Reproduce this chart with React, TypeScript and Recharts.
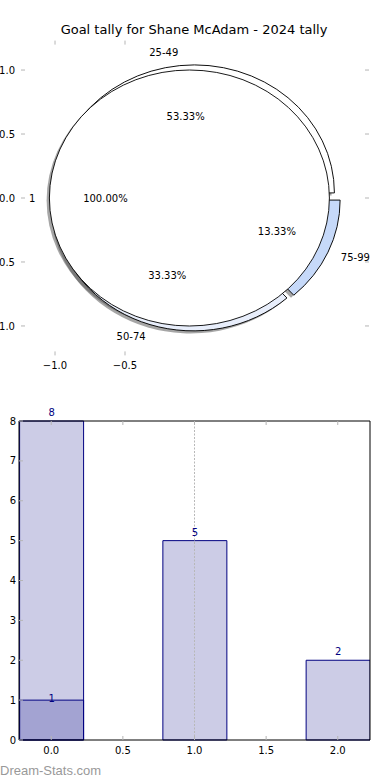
import React from "react";
import {
  Bar,
  BarChart,
  Cell,
  LabelList,
  Pie,
  PieChart,
  ReferenceLine,
  ScatterChart,
  Sector,
  XAxis,
  YAxis,
} from "recharts";

// values
const chartTitle = "Goal tally for Shane McAdam - 2024 tally";
const ringNames = ["25-49", "50-74", "75-99"];
const ringValues = [8, 5, 2];
const ringColors = ["#ffffff", "#e8eefb", "#c6d9f9"];
const coreNames = ["1"];
const coreValues = [15];
const coreColors = ["#ffffff"];
const pieTicksX = [-1, -0.5];
const pieTicksY = [-1, -0.5, 0, 0.5, 1];

const barPositions = [0, 1, 2];
const barTotals = [8, 5, 2];
const barFirst = [1, null, null];
const barTicksX = [0, 0.5, 1, 1.5, 2];
const barTicksY = [0, 1, 2, 3, 4, 5, 6, 7, 8];
const markerX = 1;

const ring = ringNames.map((name, i) => ({ name, value: ringValues[i], color: ringColors[i] }));
const core = coreNames.map((name, i) => ({ name, value: coreValues[i], color: coreColors[i] }));
const bars = barPositions.map((x, i) => ({ x, total: barTotals[i], first: barFirst[i] }));

// pie geometry (matplotlib axes were not square, so the pie is an ellipse)
const CX = 195;
const CY = 198;
const SX = 140;
const SY = 128;
const EXPLODE = 0.04;
const LABEL_DIST = 1.1;
const PCT_DIST = 0.6;
const NAVY = "#000080";
const FONT = "'DejaVu Sans', sans-serif";

const fmt1 = (v: number) => (v < 0 ? "\u2212" : "") + Math.abs(v).toFixed(1);
const blank = () => "";

const makeWedge = (shadow: boolean) => (p: any) => {
  const m = (p.midAngle * Math.PI) / 180;
  let dx = EXPLODE * SX * Math.cos(m);
  let dy = -EXPLODE * SY * Math.sin(m);
  if (shadow) {
    dx += -0.02 * SX;
    dy += 0.02 * SY;
  }
  const fill = shadow ? "#4d4d4d" : p.fill;
  const fillOpacity = shadow ? 0.5 : 1;
  const stroke = shadow ? "none" : "#000";
  // a full circle: draw it as an ellipse so no radius line shows
  if (Math.abs(p.endAngle - p.startAngle) >= 359.99) {
    return (
      <ellipse
        cx={p.cx + dx}
        cy={p.cy + dy}
        rx={(p.outerRadius * SX) / SY}
        ry={p.outerRadius}
        fill={fill}
        fillOpacity={fillOpacity}
        stroke={stroke}
        strokeWidth={0.9}
      />
    );
  }
  return (
    <g transform={`translate(${p.cx + dx},${p.cy + dy}) scale(${SX / SY},1) translate(${-p.cx},${-p.cy})`}>
      <Sector
        cx={p.cx}
        cy={p.cy}
        innerRadius={p.innerRadius}
        outerRadius={p.outerRadius}
        startAngle={p.startAngle}
        endAngle={p.endAngle}
        fill={fill}
        fillOpacity={fillOpacity}
        stroke={stroke}
        strokeWidth={0.9}
      />
    </g>
  );
};
const wedge = makeWedge(false);
const shadowWedge = makeWedge(true);
const noShape = () => <g />;

const sliceLabel = (p: any) => {
  const m = (p.midAngle * Math.PI) / 180;
  const c = Math.cos(m);
  const s = Math.sin(m);
  const name = p.name ?? p.payload?.name;
  return (
    <g>
      <text
        x={p.cx + (EXPLODE + LABEL_DIST) * SX * c}
        y={p.cy - (EXPLODE + LABEL_DIST) * SY * s}
        textAnchor={c > 0 ? "start" : "end"}
        dominantBaseline="central"
        fontSize={10}
        fill="#000"
      >
        {name}
      </text>
      <text
        x={p.cx + (EXPLODE + PCT_DIST) * SX * c}
        y={p.cy - (EXPLODE + PCT_DIST) * SY * s}
        textAnchor="middle"
        dominantBaseline="central"
        fontSize={10}
        fill="#000"
      >
        {(p.percent * 100).toFixed(2)}%
      </text>
    </g>
  );
};

const tickLine = { stroke: "#b5b5b5" };
const tickText = { fill: "#000", fontSize: 10 };

export default function App() {
  return (
    <div
      style={{
        position: "absolute",
        left: 0,
        top: 0,
        width: 390,
        height: 780,
        overflow: "hidden",
        background: "#fff",
        fontFamily: FONT,
      }}
    >
      {/* axes around the pie */}
      <div style={{ position: "absolute", left: -30, top: 0 }}>
        <ScatterChart width={420} height={390} margin={{ top: 0, right: 0, bottom: 0, left: 0 }}>
          <XAxis
            xAxisId="b"
            type="number"
            dataKey="x"
            domain={[-1.243, 1.243]}
            allowDataOverflow
            ticks={pieTicksX}
            orientation="bottom"
            height={34.6}
            axisLine={false}
            tickSize={-4}
            tickMargin={10.5}
            tickLine={tickLine}
            tick={tickText}
            tickFormatter={fmt1}
          />
          <XAxis
            xAxisId="t"
            type="number"
            dataKey="x"
            domain={[-1.243, 1.243]}
            allowDataOverflow
            ticks={pieTicksX}
            orientation="top"
            height={40.6}
            axisLine={false}
            tickSize={-4}
            tickLine={tickLine}
            tickFormatter={blank}
          />
          <YAxis
            yAxisId="l"
            type="number"
            dataKey="y"
            domain={[-1.23, 1.23]}
            allowDataOverflow
            ticks={pieTicksY}
            width={51}
            axisLine={false}
            tickSize={-4}
            tickMargin={10}
            tickLine={tickLine}
            tick={tickText}
            tickFormatter={fmt1}
          />
          <YAxis
            yAxisId="r"
            type="number"
            dataKey="y"
            orientation="right"
            domain={[-1.23, 1.23]}
            allowDataOverflow
            ticks={pieTicksY}
            width={21}
            axisLine={false}
            tickSize={-4}
            tickLine={tickLine}
            tickFormatter={blank}
          />
        </ScatterChart>
      </div>

      {/* nested pie */}
      <div style={{ position: "absolute", left: 0, top: 0 }}>
        <PieChart width={390} height={390} margin={{ top: 0, right: 0, bottom: 0, left: 0 }}>
          <Pie data={ring} dataKey="value" nameKey="name" cx={CX} cy={CY} outerRadius={SY}
            shape={shadowWedge} stroke="none" labelLine={false} isAnimationActive={false}>
            {ring.map((d) => <Cell key={d.name} fill={d.color} />)}
          </Pie>
          <Pie data={core} dataKey="value" nameKey="name" cx={CX} cy={CY} outerRadius={SY}
            shape={shadowWedge} stroke="none" labelLine={false} isAnimationActive={false}>
            {core.map((d) => <Cell key={d.name} fill={d.color} />)}
          </Pie>
          <Pie data={ring} dataKey="value" nameKey="name" cx={CX} cy={CY} outerRadius={SY}
            shape={wedge} stroke="#000" labelLine={false} isAnimationActive={false}>
            {ring.map((d) => <Cell key={d.name} fill={d.color} />)}
          </Pie>
          <Pie data={core} dataKey="value" nameKey="name" cx={CX} cy={CY} outerRadius={SY}
            shape={wedge} stroke="#000" label={sliceLabel} labelLine={false} isAnimationActive={false}>
            {core.map((d) => <Cell key={d.name} fill={d.color} />)}
          </Pie>
          <Pie data={ring} dataKey="value" nameKey="name" cx={CX} cy={CY} outerRadius={SY}
            shape={noShape} fill="none" stroke="none" label={sliceLabel} labelLine={false}
            isAnimationActive={false} />
        </PieChart>
      </div>

      <div
        style={{
          position: "absolute",
          left: 0,
          top: 23,
          width: 388,
          textAlign: "center",
          fontSize: 13,
          lineHeight: "13px",
          color: "#000",
        }}
      >
        {chartTitle}
      </div>

      {/* bar chart */}
      <div style={{ position: "absolute", left: 0, top: 390 }}>
        <BarChart width={390} height={370} data={bars} margin={{ top: 0, right: 0, bottom: 0, left: 0 }}>
          <XAxis
            xAxisId="main"
            type="number"
            dataKey="x"
            domain={[-0.225, 2.225]}
            allowDataOverflow
            ticks={barTicksX}
            height={20}
            axisLine={{ stroke: "#000" }}
            tickSize={-4}
            tickMargin={11}
            tickLine={tickLine}
            tick={tickText}
            tickFormatter={(v: number) => v.toFixed(1)}
          />
          <XAxis
            xAxisId="top"
            type="number"
            dataKey="x"
            orientation="top"
            domain={[-0.225, 2.225]}
            allowDataOverflow
            ticks={barTicksX}
            height={31}
            axisLine={{ stroke: "#000" }}
            tickSize={-4}
            tickLine={tickLine}
            tickFormatter={blank}
          />
          <XAxis
            xAxisId="overlay"
            type="number"
            dataKey="x"
            domain={[-0.225, 2.225]}
            allowDataOverflow
            hide
          />
          <YAxis
            yAxisId="left"
            type="number"
            domain={[0, 8]}
            ticks={barTicksY}
            width={19}
            axisLine={{ stroke: "#000" }}
            tickSize={-4}
            tickMargin={7}
            tickLine={tickLine}
            tick={tickText}
          />
          <YAxis
            yAxisId="right"
            type="number"
            orientation="right"
            domain={[0, 8]}
            ticks={barTicksY}
            width={20}
            axisLine={{ stroke: "#000" }}
            tickSize={-4}
            tickLine={tickLine}
            tickFormatter={blank}
          />
          <Bar
            xAxisId="main"
            yAxisId="left"
            dataKey="total"
            barSize={64}
            fill={NAVY}
            fillOpacity={0.2}
            stroke={NAVY}
            strokeWidth={1}
            isAnimationActive={false}
          >
            <LabelList dataKey="total" position="top" offset={5} fill={NAVY} fontSize={10} />
          </Bar>
          <Bar
            xAxisId="overlay"
            yAxisId="left"
            dataKey="first"
            barSize={64}
            fill={NAVY}
            fillOpacity={0.2}
            stroke={NAVY}
            strokeWidth={1}
            isAnimationActive={false}
          >
            <LabelList dataKey="first" position="top" offset={-2} fill={NAVY} fontSize={10} />
          </Bar>
          <ReferenceLine
            xAxisId="main"
            yAxisId="left"
            x={markerX}
            stroke="#b8b8b8"
            strokeDasharray="2 1.5"
          />
        </BarChart>
      </div>

      <div
        style={{
          position: "absolute",
          left: 0,
          top: 764,
          fontFamily: "'Liberation Sans', Arial, sans-serif",
          fontSize: 13,
          lineHeight: "13px",
          color: "#999",
        }}
      >
        Dream-Stats.com
      </div>
    </div>
  );
}
